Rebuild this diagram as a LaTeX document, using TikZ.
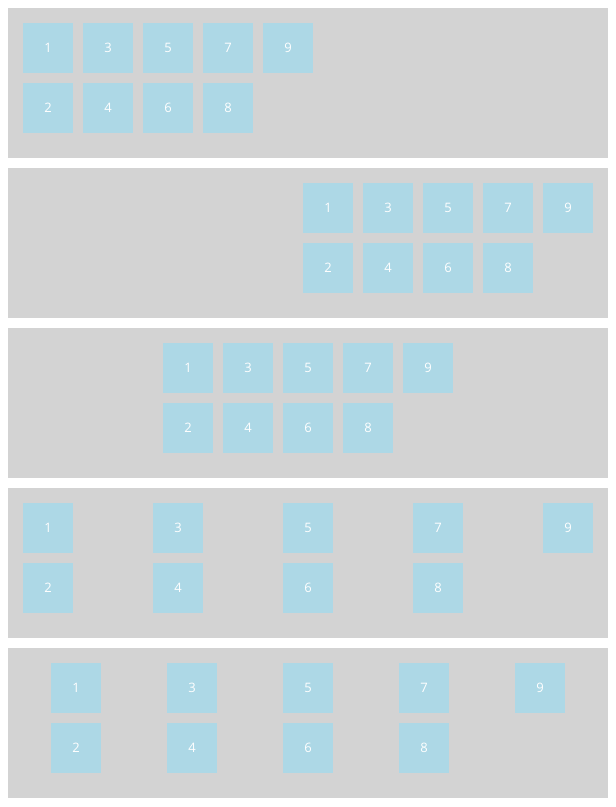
\documentclass[tikz,border=0pt]{standalone}
\usepackage{fontspec}
\setmainfont{Open Sans}
\definecolor{panelgray}{HTML}{D3D3D3}
\definecolor{boxblue}{HTML}{ADD8E6}
\begin{document}
\begin{tikzpicture}[x=1pt,y=-1pt,
  panel/.style={fill=panelgray,draw=none},
  itembox/.style={fill=boxblue,draw=none,minimum width=50pt,minimum height=50pt,inner sep=0pt,
    text=white,font=\fontsize{13}{15}\selectfont}]
\useasboundingbox (0,0) rectangle (616,807);
\fill[white] (0,0) rectangle (616,807);
% panels: top y, first x, step
\foreach \p/\fx/\st in {0/23/60, 1/303/60, 2/163/60, 3/23/130, 4/51/116}{
  \pgfmathsetmacro{\top}{8+160*\p}
  \path[panel] (8,\top) rectangle (608,\top+150);
  \foreach \k in {0,...,4}{
    \pgfmathtruncatemacro{\num}{2*\k+1}
    \node[itembox] (b\p-\num) at ({\fx+\st*\k+25},{\top+40}) {\num};
  }
  \foreach \k in {0,...,3}{
    \pgfmathtruncatemacro{\num}{2*\k+2}
    \node[itembox] (b\p-\num) at ({\fx+\st*\k+25},{\top+100}) {\num};
  }
}
\end{tikzpicture}
\end{document}
